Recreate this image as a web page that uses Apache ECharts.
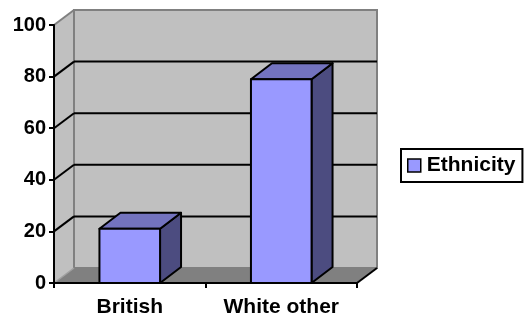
<!DOCTYPE html>
<html>
<head>
<meta charset="utf-8">
<script src="https://cdn.jsdelivr.net/npm/echarts@6/dist/echarts.min.js"></script>
<style>
  html, body { margin: 0; padding: 0; background: #ffffff; }
  #chart { width: 525px; height: 323px; }
</style>
</head>
<body>
<div id="chart"></div>
<script>
// Chart data
const categories = ['British', 'White other'];
const ethnicity = [21, 79];
const yTicks = [0, 20, 40, 60, 80, 100];
const seriesName = 'Ethnicity';

// 3D look: offset of the back wall and of the bar depth (px)
const WALL_DX = 20, WALL_DY = -15;
const BAR_DX = 21, BAR_DY = -16;
const FONT = '"Liberation Sans", Arial, sans-serif';
const FONT_SIZE = 21;

const chart = echarts.init(document.getElementById('chart'), null, { renderer: 'canvas' });

function renderWalls(params, api) {
  const cs = params.coordSys;
  const x = cs.x, y = cs.y, w = cs.width, h = cs.height;
  const dx = WALL_DX, dy = WALL_DY;
  const children = [];
  // left side wall
  children.push({ type: 'polygon', shape: { points: [[x, y + h], [x, y], [x + dx, y + dy], [x + dx, y + h + dy]] },
    style: { fill: '#c0c0c0', stroke: null } });
  // back wall
  children.push({ type: 'rect', shape: { x: x + dx, y: y + dy, width: w, height: h },
    style: { fill: '#c0c0c0', stroke: '#808080', lineWidth: 2 } });
  // floor
  children.push({ type: 'polygon', shape: { points: [[x, y + h], [x + dx, y + h + dy], [x + w + dx, y + h + dy], [x + w, y + h]] },
    style: { fill: '#808080', stroke: null } });
  children.push({ type: 'line', shape: { x1: x, y1: y + h, x2: x + dx, y2: y + h + dy },
    style: { stroke: '#a0a0a0', lineWidth: 1.5 } });
  children.push({ type: 'line', shape: { x1: x + w, y1: y + h, x2: x + w + dx, y2: y + h + dy },
    style: { stroke: '#000000', lineWidth: 2 } });
  // gridlines on back wall and side wall
  yTicks.forEach(function (v) {
    if (v === 0) return;
    const py = api.coord([0, v])[1];
    const col = v === 100 ? '#808080' : '#000000';
    children.push({ type: 'line', shape: { x1: x, y1: py, x2: x + dx, y2: py + dy },
      style: { stroke: col, lineWidth: 2 } });
    if (v !== 100) {
      children.push({ type: 'line', shape: { x1: x + dx, y1: py + dy, x2: x + w + dx, y2: py + dy },
        style: { stroke: col, lineWidth: 2 } });
    }
  });
  return { type: 'group', children: children };
}

function renderBar(params, api) {
  const idx = api.value(0);
  const v = api.value(1);
  const top = api.coord([idx, v]);
  const base = api.coord([idx, 0]);
  const bw = api.size([1, 0])[0] * 0.4;
  const x0 = top[0] - bw / 2, x1 = top[0] + bw / 2;
  const yT = top[1], yB = base[1];
  const dx = BAR_DX, dy = BAR_DY;
  const edge = { stroke: '#000000', lineWidth: 2, lineJoin: 'round' };
  return {
    type: 'group',
    children: [
      { type: 'polygon', shape: { points: [[x1, yT], [x1 + dx, yT + dy], [x1 + dx, yB + dy], [x1, yB]] },
        style: Object.assign({ fill: '#4c4c80' }, edge) },
      { type: 'polygon', shape: { points: [[x0, yT], [x0 + dx, yT + dy], [x1 + dx, yT + dy], [x1, yT]] },
        style: Object.assign({ fill: '#7373bf' }, edge) },
      { type: 'rect', shape: { x: x0, y: yT, width: bw, height: yB - yT },
        style: Object.assign({ fill: '#9999ff' }, edge) }
    ]
  };
}

const option = {
  backgroundColor: '#ffffff',
  animation: false,
  grid: { left: 54, right: 168, top: 25, bottom: 40, containLabel: false },
  legend: {
    data: [seriesName],
    left: 401,
    top: 149,
    orient: 'vertical',
    icon: 'rect',
    itemWidth: 13,
    itemHeight: 13,
    padding: [6, 7, 6, 6],
    borderColor: '#000000',
    borderWidth: 2,
    backgroundColor: '#ffffff',
    itemStyle: { color: '#9999ff', borderColor: '#000000', borderWidth: 1.5 },
    textStyle: { color: '#000000', fontSize: FONT_SIZE, fontWeight: 'bold', fontFamily: FONT, padding: [0, 0, 0, 1] }
  },
  xAxis: {
    type: 'category',
    data: categories,
    z: 3,
    axisLine: { show: true, lineStyle: { color: '#000000', width: 2 } },
    axisTick: { show: true, length: 5, interval: 0, lineStyle: { color: '#000000', width: 2 } },
    axisLabel: { color: '#000000', fontSize: FONT_SIZE, fontWeight: 'bold', fontFamily: FONT, margin: 14, interval: 0 },
    splitLine: { show: false }
  },
  yAxis: {
    type: 'value',
    min: 0,
    max: 100,
    interval: 20,
    z: 3,
    axisLine: { show: true, lineStyle: { color: '#000000', width: 2 } },
    axisTick: { show: true, length: 5, lineStyle: { color: '#000000', width: 2 } },
    axisLabel: { color: '#000000', fontSize: 20, fontWeight: 'bold', fontFamily: FONT, margin: 8 },
    splitLine: { show: false }
  },
  series: [
    {
      type: 'custom',
      name: 'walls',
      z: 1,
      silent: true,
      clip: false,
      renderItem: renderWalls,
      data: [[0, 0]],
      encode: { x: 0, y: 1 }
    },
    {
      type: 'custom',
      name: seriesName,
      z: 5,
      clip: false,
      itemStyle: { color: '#9999ff' },
      renderItem: renderBar,
      data: categories.map(function (c, i) { return [i, ethnicity[i]]; }),
      encode: { x: 0, y: 1 }
    }
  ]
};

chart.setOption(option);
</script>
</body>
</html>
